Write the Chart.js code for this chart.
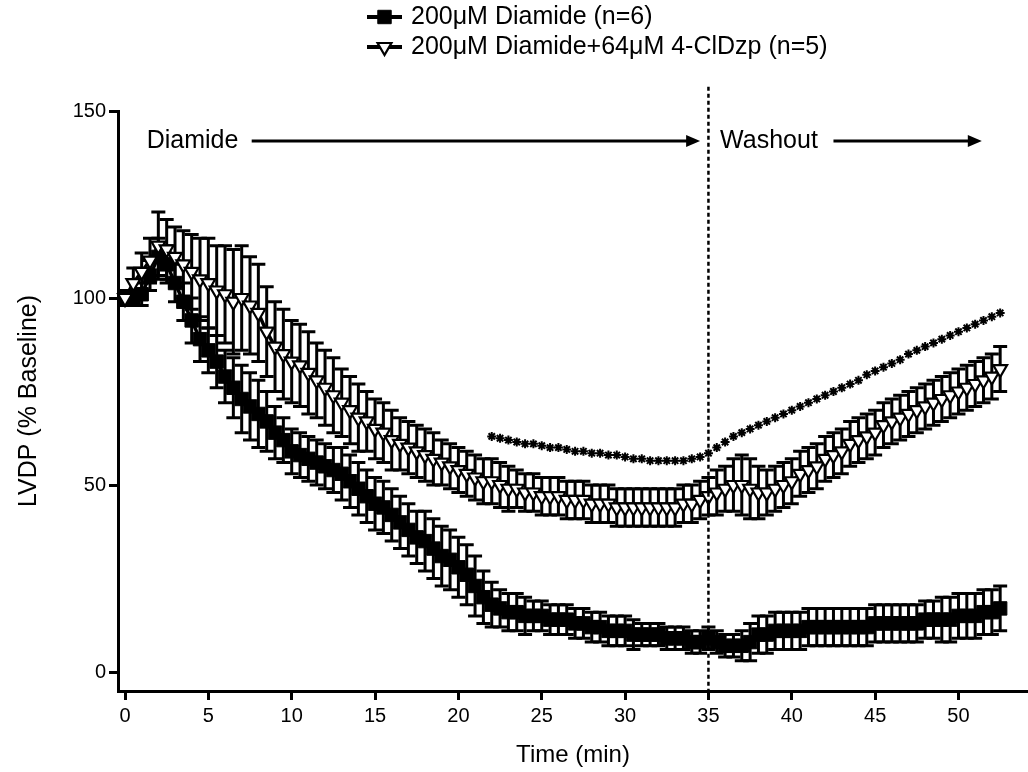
<!DOCTYPE html>
<html lang="en">
  <head>
    <meta charset="UTF-8" />
    <style>
      html, body { margin: 0; padding: 0; background: #fff; overflow: hidden; }
      canvas { display: block; }
    </style>
  </head>
  <body>
    <canvas id="myChart" width="1028" height="772"></canvas>
    <script src="https://cdn.jsdelivr.net/npm/chart.js@4.4.1/dist/chart.umd.min.js"></script>
    <script>
      // time points (min)
      var times = [
        0, 0.5, 1, 1.5, 2, 2.5, 3, 3.5, 4, 4.5,
        5, 5.5, 6, 6.5, 7, 7.5, 8, 8.5, 9, 9.5,
        10, 10.5, 11, 11.5, 12, 12.5, 13, 13.5, 14, 14.5,
        15, 15.5, 16, 16.5, 17, 17.5, 18, 18.5, 19, 19.5,
        20, 20.5, 21, 21.5, 22, 22.5, 23, 23.5, 24, 24.5,
        25, 25.5, 26, 26.5, 27, 27.5, 28, 28.5, 29, 29.5,
        30, 30.5, 31, 31.5, 32, 32.5, 33, 33.5, 34, 34.5,
        35, 35.5, 36, 36.5, 37, 37.5, 38, 38.5, 39, 39.5,
        40, 40.5, 41, 41.5, 42, 42.5, 43, 43.5, 44, 44.5,
        45, 45.5, 46, 46.5, 47, 47.5, 48, 48.5, 49, 49.5,
        50, 50.5, 51, 51.5, 52, 52.5
      ];

      // 200uM Diamide (n=6): mean and SEM
      var diamide = [
        100, 100, 101, 106, 111, 109, 104, 99, 94, 89,
        86, 83, 79, 76, 73, 71, 69, 67, 64, 62,
        59, 58, 57, 56, 55, 54, 53, 51, 49, 47,
        45, 44, 42, 40, 38, 36, 35, 33, 31, 30,
        28, 26, 23, 20, 18, 17, 16, 16, 15, 15,
        15, 14, 14, 14, 13, 13, 12, 12, 11, 11,
        11, 10, 10, 10, 10, 9, 9, 9, 8, 8,
        9, 8, 7, 7, 7, 8, 10, 10, 11, 11,
        11, 11, 12, 12, 12, 12, 12, 12, 12, 12,
        13, 13, 13, 13, 13, 13, 14, 14, 14, 14,
        15, 15, 15, 16, 16, 17
      ];
      var diamideSem = [
        2, 2, 3, 4, 5, 5, 5, 5, 6, 6,
        6, 7, 7, 8, 9, 9, 9, 8, 7, 6,
        6, 6, 6, 6, 6, 6, 7, 7, 7, 7,
        7, 7, 7, 7, 7, 7, 8, 8, 8, 8,
        8, 8, 8, 7, 6, 5, 5, 5, 5, 4,
        4, 4, 4, 4, 4, 4, 4, 4, 4, 4,
        4, 4, 3, 3, 3, 3, 3, 3, 3, 3,
        3, 3, 3, 3, 4, 5, 5, 5, 5, 5,
        5, 5, 5, 5, 5, 5, 5, 5, 5, 5,
        5, 5, 5, 5, 5, 5, 5, 5, 6, 6,
        6, 6, 6, 6, 6, 6
      ];

      // 200uM Diamide + 64uM 4-ClDzp (n=5): mean and SEM
      var clDzp = [
        100, 104, 107, 110, 114, 113, 111, 109, 107, 105,
        104, 102, 101, 99, 100, 98, 96, 91, 87, 85,
        83, 82, 80, 78, 76, 74, 72, 70, 68, 67,
        65, 64, 62, 61, 60, 59, 58, 57, 56, 55,
        54, 53, 52, 51, 51, 50, 49, 49, 48, 48,
        47, 47, 47, 46, 46, 46, 45, 45, 45, 44,
        44, 44, 44, 44, 44, 44, 44, 45, 45, 46,
        47, 48, 49, 50, 50, 49, 48, 48, 49, 50,
        51, 53, 54, 55, 57, 58, 59, 61, 62, 63,
        64, 66, 67, 68, 69, 70, 71, 72, 73, 74,
        75, 76, 77, 78, 79, 81
      ];
      var clDzpSem = [
        2, 4, 5, 6, 9, 8, 8, 9, 10, 11,
        12, 12, 13, 14, 14, 13, 13, 12, 12, 12,
        11, 11, 11, 10, 10, 10, 9, 9, 9, 8,
        8, 8, 8, 7, 7, 7, 7, 7, 6, 6,
        6, 6, 6, 6, 6, 6, 6, 5, 5, 5,
        5, 5, 5, 5, 5, 5, 5, 5, 5, 5,
        5, 5, 5, 5, 5, 5, 5, 5, 5, 5,
        5, 6, 6, 7, 8, 8, 7, 6, 6, 6,
        6, 6, 6, 6, 6, 6, 6, 6, 6, 6,
        6, 6, 6, 6, 6, 6, 6, 6, 6, 6,
        6, 6, 6, 6, 6, 6
      ];

      // significance stars
      var starTimes = [
        22, 22.5, 23, 23.5, 24, 24.5, 25, 25.5, 26, 26.5,
        27, 27.5, 28, 28.5, 29, 29.5, 30, 30.5, 31, 31.5,
        32, 32.5, 33, 33.5, 34, 34.5, 35, 35.5, 36, 36.5,
        37, 37.5, 38, 38.5, 39, 39.5, 40, 40.5, 41, 41.5,
        42, 42.5, 43, 43.5, 44, 44.5, 45, 45.5, 46, 46.5,
        47, 47.5, 48, 48.5, 49, 49.5, 50, 50.5, 51, 51.5,
        52, 52.5
      ];
      var starValues = [
        63, 62.5, 62, 61.5, 61, 61, 60.5, 60, 60, 59.5,
        59, 59, 58.5, 58.5, 58, 58, 57.5, 57, 57, 56.5,
        56.5, 56.5, 56.5, 56.5, 57, 57.5, 58.5, 60, 61.5, 63,
        64, 65, 66, 67, 68, 69, 70, 71, 72, 73,
        74, 75, 76, 77, 78, 79.5, 80.5, 81.5, 82.5, 83.5,
        85, 86, 87, 88, 89, 90, 91, 92, 93, 94,
        95, 96
      ];

      var xTicks = [0, 5, 10, 15, 20, 25, 30, 35, 40, 45, 50];
      var yTicks = [0, 50, 100, 150];
      var seriesNames = ["200\u03bcM Diamide (n=6)", "200\u03bcM Diamide+64\u03bcM 4-ClDzp (n=5)"];

      // phase annotations (x in min)
      var phaseLabels = ["Diamide", "Washout"];
      var phaseTextAt = [1.3, 35.7];
      var phaseArrowFrom = [7.6, 42.5];
      var phaseArrowTo = [34.5, 51.4];
      var phaseLevel = 142;
      var washoutStart = 35;
      var washoutLineTop = 156.5;

      var FONT = "'Liberation Sans', Arial, Helvetica, sans-serif";
      Chart.defaults.font.family = FONT;
      Chart.defaults.color = "#000";

      function points(xs, ys) {
        return xs.map(function (t, i) {
          return { x: t, y: ys[i] };
        });
      }

      var squareStyle = { pointStyle: "rect", rotation: 0, radius: 9.5, borderWidth: 1, fill: "#000" };
      var triangleStyle = { pointStyle: "triangle", rotation: 180, radius: 8, borderWidth: 2.2, fill: "#fff" };

      // error bars drawn under each dataset's line and markers
      var errorBars = {
        id: "errorBars",
        beforeDatasetDraw: function (chart, args) {
          var ds = chart.data.datasets[args.index];
          if (!ds.errors) return;
          var ctx = chart.ctx;
          var ys = chart.scales.y;
          ctx.save();
          ctx.strokeStyle = "#000";
          ctx.lineWidth = 3;
          args.meta.data.forEach(function (pt, i) {
            var v = ds.data[i].y;
            var e = ds.errors[i];
            var top = ys.getPixelForValue(v + e);
            var bot = ys.getPixelForValue(v - e);
            ctx.beginPath();
            ctx.moveTo(pt.x, top);
            ctx.lineTo(pt.x, bot);
            ctx.moveTo(pt.x - 7, top);
            ctx.lineTo(pt.x + 7, top);
            ctx.moveTo(pt.x - 7, bot);
            ctx.lineTo(pt.x + 7, bot);
            ctx.stroke();
          });
          ctx.restore();
        },
      };

      function arrow(ctx, x1, x2, y) {
        ctx.beginPath();
        ctx.moveTo(x1, y);
        ctx.lineTo(x2 - 10, y);
        ctx.stroke();
        ctx.beginPath();
        ctx.moveTo(x2, y);
        ctx.lineTo(x2 - 14, y - 6);
        ctx.lineTo(x2 - 14, y + 6);
        ctx.closePath();
        ctx.fill();
      }

      var phases = {
        id: "phases",
        afterDatasetsDraw: function (chart) {
          var ctx = chart.ctx;
          var xs = chart.scales.x;
          var ys = chart.scales.y;
          ctx.save();
          ctx.strokeStyle = "#000";
          ctx.fillStyle = "#000";
          var dx = xs.getPixelForValue(washoutStart);
          ctx.lineWidth = 2.5;
          ctx.setLineDash([4, 3]);
          ctx.beginPath();
          ctx.moveTo(dx, ys.getPixelForValue(washoutLineTop));
          ctx.lineTo(dx, chart.chartArea.bottom);
          ctx.stroke();
          ctx.setLineDash([]);

          var y = ys.getPixelForValue(phaseLevel);
          ctx.font = "25px " + FONT;
          ctx.textBaseline = "middle";
          ctx.textAlign = "left";
          ctx.lineWidth = 3;
          phaseLabels.forEach(function (label, i) {
            ctx.fillText(label, xs.getPixelForValue(phaseTextAt[i]), y);
            arrow(ctx, xs.getPixelForValue(phaseArrowFrom[i]), xs.getPixelForValue(phaseArrowTo[i]), y);
          });
          ctx.restore();
        },
      };

      var legendRows = {
        id: "legendRows",
        afterDraw: function (chart) {
          var ctx = chart.ctx;
          var styles = [squareStyle, triangleStyle];
          ctx.save();
          ctx.font = "25px " + FONT;
          ctx.textBaseline = "middle";
          ctx.textAlign = "left";
          seriesNames.forEach(function (name, i) {
            var y = 17 + i * 30;
            ctx.strokeStyle = "#000";
            ctx.lineWidth = 4;
            ctx.beginPath();
            ctx.moveTo(367, y);
            ctx.lineTo(402, y);
            ctx.stroke();
            ctx.fillStyle = styles[i].fill;
            ctx.lineWidth = styles[i].borderWidth;
            Chart.helpers.drawPoint(ctx, styles[i], 384.5, y);
            ctx.fillStyle = "#000";
            ctx.fillText(name, 411, y);
          });
          ctx.restore();
        },
      };

      var ctx = document.getElementById("myChart").getContext("2d");
      var chart = new Chart(ctx, {
        type: "line",
        data: {
          datasets: [
            {
              label: seriesNames[1],
              data: points(times, clDzp),
              errors: clDzpSem,
              borderColor: "#000",
              borderWidth: 3.5,
              pointStyle: triangleStyle.pointStyle,
              rotation: triangleStyle.rotation,
              pointRadius: triangleStyle.radius,
              pointBorderWidth: triangleStyle.borderWidth,
              pointBackgroundColor: triangleStyle.fill,
              pointBorderColor: "#000",
              clip: false,
              order: 0,
            },
            {
              label: seriesNames[0],
              data: points(times, diamide),
              errors: diamideSem,
              borderColor: "#000",
              borderWidth: 3.5,
              pointStyle: squareStyle.pointStyle,
              pointRadius: squareStyle.radius,
              pointBorderWidth: squareStyle.borderWidth,
              pointBackgroundColor: squareStyle.fill,
              pointBorderColor: "#000",
              clip: false,
              order: 1,
            },
            {
              label: "significance",
              data: points(starTimes, starValues),
              showLine: false,
              pointStyle: "star",
              pointRadius: 4.5,
              pointBorderWidth: 2,
              pointBorderColor: "#000",
              pointBackgroundColor: "#000",
              clip: false,
              order: 2,
            },
          ],
        },
        options: {
          responsive: false,
          animation: false,
          devicePixelRatio: 1,
          layout: { autoPadding: false, padding: { top: 111, left: 0, right: 0, bottom: 0 } },
          plugins: {
            legend: { display: false },
            tooltip: { enabled: false },
          },
          scales: {
            x: {
              type: "linear",
              min: -0.42,
              max: 54.17,
              afterBuildTicks: function (scale) {
                scale.ticks = xTicks.map(function (v) { return { value: v }; });
              },
              afterFit: function (scale) {
                scale.height = 81;
                scale.paddingLeft = 0;
                scale.paddingRight = 0;
              },
              border: { display: true, color: "#000", width: 3 },
              grid: { display: true, drawOnChartArea: false, drawTicks: true, tickLength: 9, tickWidth: 3, tickColor: "#000", color: "#000" },
              ticks: { font: { size: 20 }, color: "#000", padding: 4, maxRotation: 0, autoSkip: false },
              title: { display: true, text: "Time (min)", font: { size: 24 }, color: "#000", padding: { top: 0, bottom: 2 } },
            },
            y: {
              type: "linear",
              min: -5.08,
              max: 150,
              afterBuildTicks: function (scale) {
                scale.ticks = yTicks.map(function (v) { return { value: v }; });
              },
              afterFit: function (scale) {
                scale.width = 118;
                scale.paddingTop = 0;
                scale.paddingBottom = 0;
              },
              border: { display: true, color: "#000", width: 3 },
              grid: { display: true, drawOnChartArea: false, drawTicks: true, tickLength: 9, tickWidth: 3, tickColor: "#000", color: "#000" },
              ticks: { font: { size: 20 }, color: "#000", padding: 3 },
              title: { display: true, text: "LVDP (% Baseline)", font: { size: 25 }, color: "#000", padding: { top: 14, bottom: 0 } },
            },
          },
        },
        plugins: [errorBars, phases, legendRows],
      });
    </script>
  </body>
</html>
